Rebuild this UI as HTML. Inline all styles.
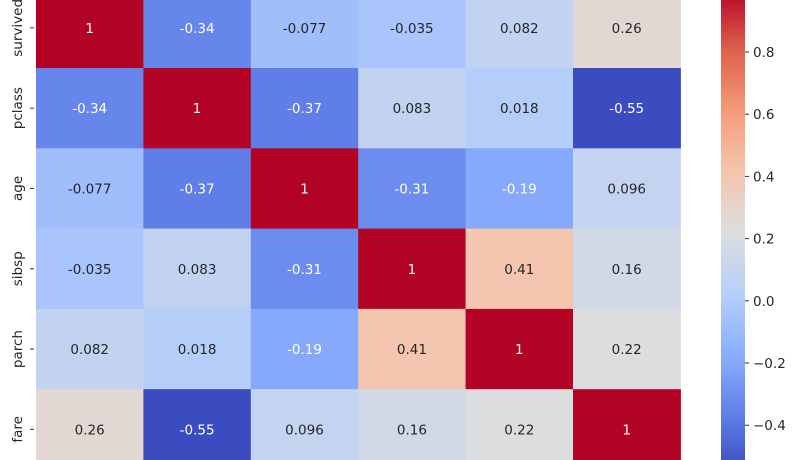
<!DOCTYPE html>
<html><head><meta charset="utf-8"><style>
body{margin:0;background:#fff;width:800px;height:460px;overflow:hidden}
svg{display:block;font-family:"DejaVu Sans","Liberation Sans",sans-serif}
</style></head><body>
<svg id="chart" width="800" height="460"></svg>
<script>
const labels=["survived","pclass","age","sibsp","parch","fare"];
const row0=[1,-0.34,-0.077,-0.035,0.082,0.26];
const row1=[-0.34,1,-0.37,0.083,0.018,-0.55];
const row2=[-0.077,-0.37,1,-0.31,-0.19,0.096];
const row3=[-0.035,0.083,-0.31,1,0.41,0.16];
const row4=[0.082,0.018,-0.19,0.41,1,0.22];
const row5=[0.26,-0.55,0.096,0.16,0.22,1];
const matrix=[row0,row1,row2,row3,row4,row5];
const cbTicks=[0.8,0.6,0.4,0.2,0.0,-0.2,-0.4];
const cbTickLabels=["0.8","0.6","0.4","0.2","0.0","\u22120.2","\u22120.4"];
const vmin=-0.55,vmax=1;

const NS="http://www.w3.org/2000/svg";
const svg=document.getElementById('chart');
const stops=[[59,76,192],[98,130,234],[141,176,254],[184,208,249],[221,221,221],[245,196,173],[244,154,123],[222,96,77],[180,4,38]];
function cmap(t){t=Math.max(0,Math.min(1,t));const p=t*8,i=Math.min(7,Math.floor(p)),f=p-i;const a=stops[i],b=stops[i+1];
return `rgb(${a.map((v,k)=>Math.round(v+(b[k]-v)*f)).join(',')})`;}
function norm(v){return (v-vmin)/(vmax-vmin);}
const x0=36,cw=107.4,y0=-12.3,rh=80.3;
function xs(i){return x0+i*cw;}
function ys(i){return y0+i*rh;}
function mk(tag,attrs){const e=document.createElementNS(NS,tag);for(const k in attrs)e.setAttribute(k,attrs[k]);svg.appendChild(e);return e;}
matrix.forEach((row,r)=>{row.forEach((v,c)=>{
 const rect=mk('rect',{x:xs(c),y:ys(r),width:cw+0.5,height:rh+0.5,fill:cmap(norm(v))});
 
 
 const t=mk('text',{x:xs(c)+cw/2,y:ys(r)+rh/2+5,'text-anchor':'middle','font-size':'13.5',fill:(v<-0.15||v>0.6)?'#fff':'#262626'});
 t.textContent=String(v);
 
 
});
 const yc=ys(r)+rh/2;
 mk('line',{x1:30,x2:34,y1:yc,y2:yc,stroke:'#333','stroke-width':1});
 const l=mk('text',{x:0,y:0,transform:`translate(22,${yc}) rotate(-90)`,'text-anchor':'middle','font-size':'13.5',fill:'#262626'});
 l.textContent=labels[r];
 
 
});
// colorbar
const cbx=721,cbw=24;
function cy(v){return 52+(0.8-v)/0.2*62.2;}
const defs=mk('defs',{});
const g=document.createElementNS(NS,'linearGradient');g.setAttribute('id','cb');g.setAttribute('x1','0');g.setAttribute('y1','1');g.setAttribute('x2','0');g.setAttribute('y2','0');defs.appendChild(g);
for(let i=0;i<=16;i++){const s=document.createElementNS(NS,'stop');s.setAttribute('offset',i/16);s.setAttribute('stop-color',cmap(i/16));g.appendChild(s);}
const cb=mk('rect',{x:cbx,y:cy(vmax),width:cbw,height:cy(vmin)-cy(vmax),fill:'url(#cb)'});


cbTicks.forEach((v,i)=>{const y=cy(v);
 mk('line',{x1:cbx+cbw,x2:cbx+cbw+4,y1:y,y2:y,stroke:'#333','stroke-width':1});
 const t=mk('text',{x:cbx+cbw+8,y:y+5,'font-size':'13.5',fill:'#262626'});
 t.textContent=cbTickLabels[i];
 
 
});
</script>
</body></html>
